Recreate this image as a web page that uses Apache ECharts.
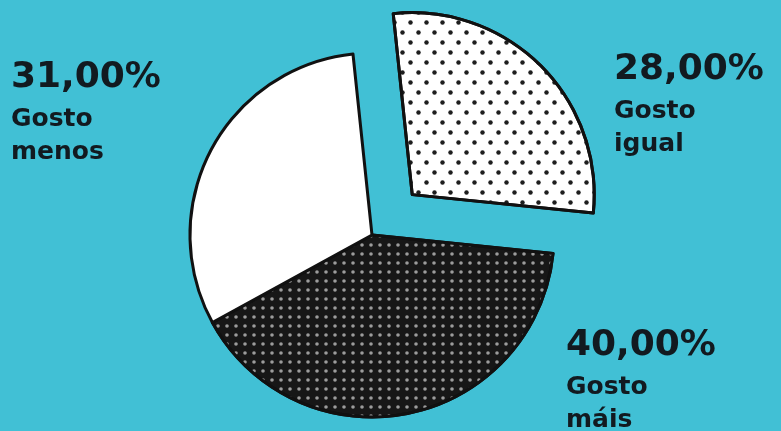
<!DOCTYPE html>
<html>
<head>
<meta charset="utf-8">
<script src="https://cdn.jsdelivr.net/npm/echarts@6/dist/echarts.min.js"></script>
<style>
  html, body { margin: 0; padding: 0; background: #41c0d5; }
  #chart { width: 781px; height: 431px; }
</style>
</head>
<body>
<div id="chart"></div>
<script>
  // dados do gráfico
  var names = ['Gosto igual', 'Gosto máis', 'Gosto menos'];
  var values = [28, 40, 31];

  // onde fica cada etiqueta (canto superior esquerdo)
  var labelSpots = [[614, 45], [566, 321], [11, 53]];

  var pieCenter = [372, 235];
  var startAngle = 96;
  var explode = 57; // deslocamento da fatia "Gosto igual"

  var sliceStyles = [
    { // pontos pretos sobre branco
      color: '#ffffff',
      decal: { symbol: 'circle', symbolSize: 0.9, color: '#1e1e1e',
               dashArrayX: [[5, 11], [0, 8, 5, 3]], dashArrayY: [5, 5] }
    },
    { // pontos cinza sobre preto
      color: '#171717',
      decal: { symbol: 'circle', symbolSize: 0.9, color: '#9c9c9c',
               dashArrayX: [4, 5], dashArrayY: [4, 5] }
    },
    { color: '#ffffff' }
  ];
  var hidden = { color: 'transparent', borderColor: 'transparent', borderWidth: 0 };

  function pct(v) {
    return v.toFixed(2).replace('.', ',') + '%';
  }

  // a fatia destacada sai ao longo da sua bissetriz
  var total = values.reduce(function (a, b) { return a + b; }, 0);
  var mid = (startAngle - values[0] / total * 180) * Math.PI / 180;
  var explodedCenter = [pieCenter[0] + explode * Math.cos(mid), pieCenter[1] - explode * Math.sin(mid)];

  function pieSeries(center, shown) {
    return {
      type: 'pie',
      center: center,
      radius: 182,
      startAngle: startAngle,
      silent: true,
      emphasis: { disabled: true },
      itemStyle: { borderColor: '#111111', borderWidth: 3 },
      labelLine: { show: false },
      label: {
        show: true,
        position: 'outside',
        formatter: function (p) {
          var parts = p.name.split(' ');
          return '{p|' + pct(p.value) + '}\n{n|' + parts[0] + '}\n{n|' + parts[1] + '}';
        },
        rich: {
          p: { fontFamily: 'DejaVu Sans', fontWeight: 'bold', fontSize: 36, lineHeight: 50, color: '#121a20' },
          n: { fontFamily: 'DejaVu Sans', fontWeight: 'bold', fontSize: 25, lineHeight: 33, color: '#121a20' }
        }
      },
      labelLayout: function (params) {
        var s = labelSpots[params.dataIndex];
        return { x: s[0], y: s[1], align: 'left', verticalAlign: 'top' };
      },
      data: values.map(function (v, i) {
        var on = shown(i);
        return {
          name: names[i],
          value: v,
          itemStyle: on ? sliceStyles[i] : hidden,
          label: { show: on }
        };
      })
    };
  }

  var chart = echarts.init(document.getElementById('chart'));
  chart.setOption({
    backgroundColor: '#41c0d5',
    animation: false,
    series: [
      pieSeries(pieCenter, function (i) { return i !== 0; }),
      pieSeries(explodedCenter, function (i) { return i === 0; })
    ]
  });
</script>
</body>
</html>
